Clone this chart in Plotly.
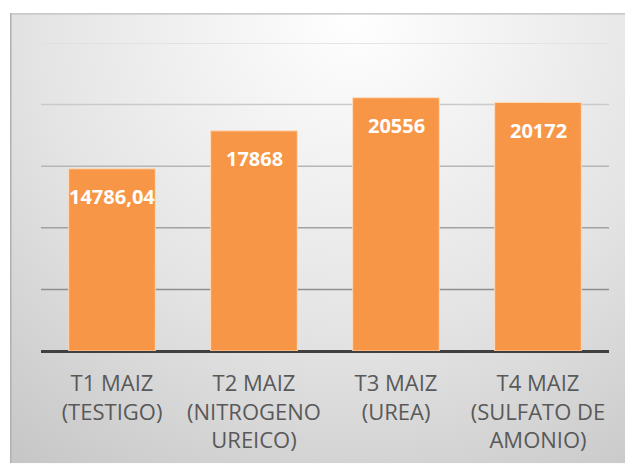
import base64
import plotly.graph_objects as go

categories = ["T1 MAIZ<br>(TESTIGO)", "T2 MAIZ<br>(NITROGENO<br>UREICO)",
              "T3 MAIZ<br>(UREA)", "T4 MAIZ<br>(SULFATO DE<br>AMONIO)"]
values = [14786.04, 17868, 20556, 20172]
y_ticks = [5000, 10000, 15000, 20000, 25000]
grid_colors = ["#8e8e8e", "#a2a2a2", "#b6b6b6", "#cacaca", "#dedede"]


def fmt(v):
    if float(v).is_integer():
        return str(int(v))
    return f"{v:.2f}".replace(".", ",")


labels = [fmt(v) for v in values]

W, H = 625, 466
ML, MR, MT, MB = 41, 16, 43, 113
PW, PH = W - ML - MR, H - MT - MB

# background radial gradient (chart area)
bx0, by0, bx1, by1 = 10, 13, 625, 466
bw, bh = bx1 - bx0, by1 - by0
svg = f'''<svg xmlns="http://www.w3.org/2000/svg" width="{bw}" height="{bh}" viewBox="0 0 {bw} {bh}" preserveAspectRatio="none">
<defs><radialGradient id="g" cx="0.56" cy="0.0" r="0.95" gradientTransform="translate(0.56,0) scale(1,1.35) translate(-0.56,0)">
<stop offset="0" stop-color="#ffffff"/><stop offset="0.55" stop-color="#e4e4e4"/><stop offset="1" stop-color="#c4c4c4"/></radialGradient></defs>
<rect x="0" y="0" width="{bw}" height="{bh}" fill="url(#g)"/>
<line x1="0" y1="0.5" x2="{bw}" y2="0.5" stroke="#bdbdbd" stroke-width="1.5"/>
<line x1="0.75" y1="0" x2="0.75" y2="{bh}" stroke="#b0b0b0" stroke-width="1.5"/>
</svg>'''
src = "data:image/svg+xml;base64," + base64.b64encode(svg.encode()).decode()

fig = go.Figure()
fig.add_trace(go.Bar(
    x=categories, y=values,
    marker=dict(color="#F79646", line=dict(color="rgba(255,220,190,0.9)", width=1)),
    hoverinfo="skip",
))

for c, v, t in zip(categories, values, labels):
    fig.add_annotation(x=c, y=v, text=t, showarrow=False, yshift=-28, yanchor="middle",
                       font=dict(family="Open Sans", size=20, color="white", weight="bold"))

for yv, col in zip(y_ticks, grid_colors):
    fig.add_shape(type="line", xref="paper", yref="y", x0=0, x1=1, y0=yv, y1=yv,
                  line=dict(color=col, width=1.5), layer="below")

fig.add_layout_image(dict(
    source=src, xref="paper", yref="paper",
    x=(bx0 - ML) / PW, y=(H - MB - by0) / PH,
    sizex=bw / PW, sizey=bh / PH, sizing="stretch",
    xanchor="left", yanchor="top", layer="below",
))

fig.update_layout(
    width=W, height=H,
    margin=dict(l=ML, r=MR, t=MT, b=MB),
    paper_bgcolor="white", plot_bgcolor="rgba(0,0,0,0)",
    bargap=0.39, showlegend=False,
    font=dict(family="Open Sans", color="#595959"),
)
fig.update_xaxes(
    showgrid=False, showline=False, zeroline=False, ticks="",
    ticklabelstandoff=17,
    tickfont=dict(family="Open Sans", size=22, color="#595959"),
)
fig.update_yaxes(
    range=[0, 25000], showticklabels=False, showgrid=False,
    zeroline=True, zerolinecolor="#404040", zerolinewidth=3,
    showline=False, ticks="",
)

fig.write_html("out.html", config={"displayModeBar": False},
               post_script="document.body.style.margin='0';document.body.style.overflow='hidden';")
